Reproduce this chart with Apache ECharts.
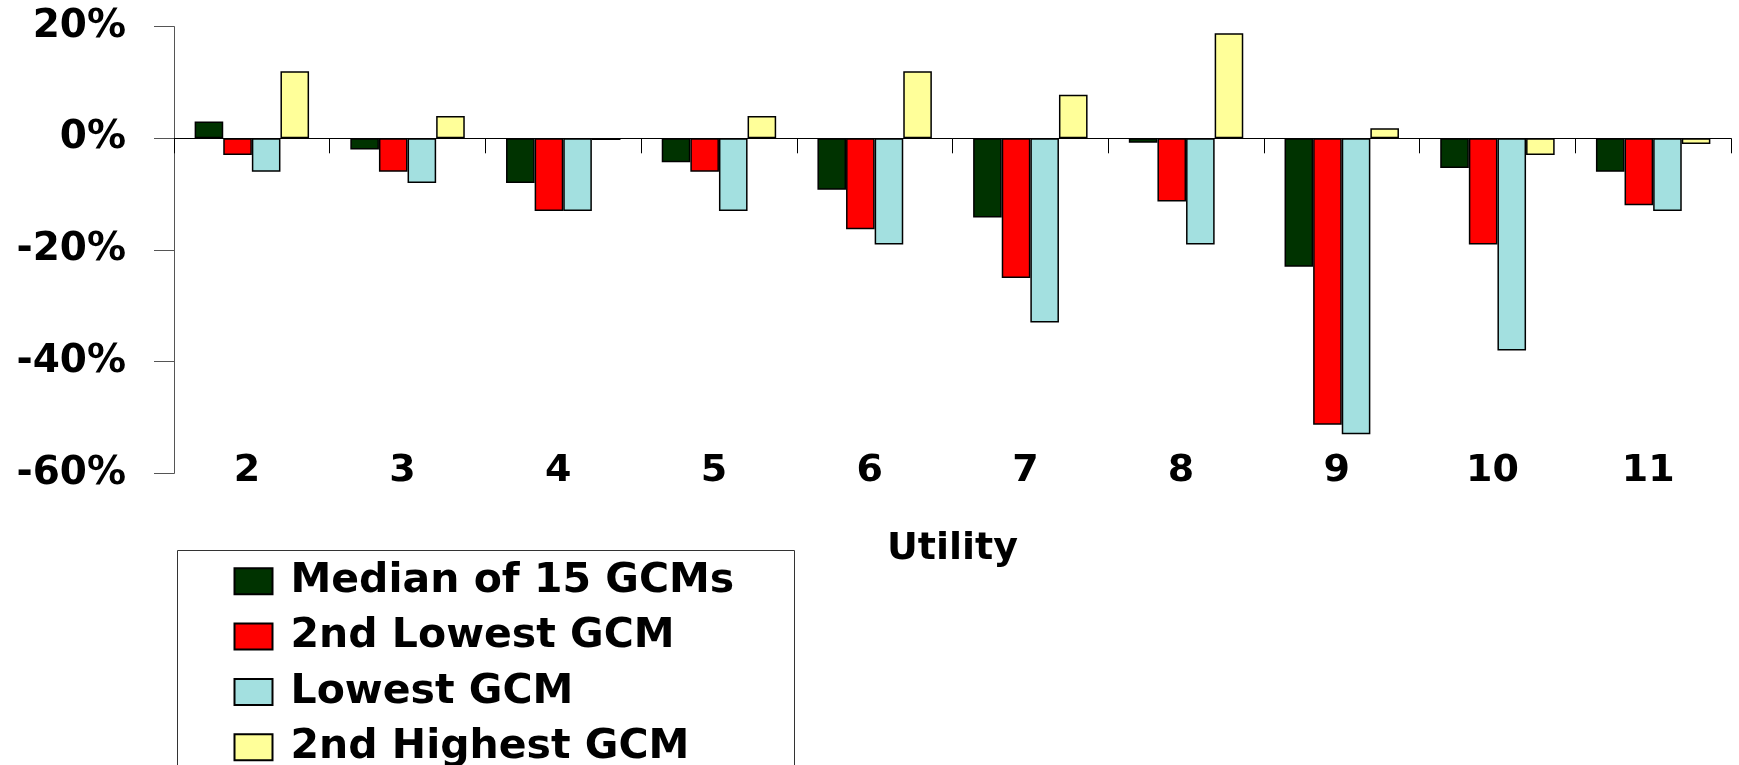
<!DOCTYPE html>
<html>
<head>
<meta charset="utf-8">
<script src="https://cdn.jsdelivr.net/npm/echarts@6/dist/echarts.min.js"></script>
<style>
html,body{margin:0;padding:0;background:#fff;}
#chart{width:1739px;height:765px;}
</style>
</head>
<body>
<div id="chart"></div>
<script>
const categories = ['2','3','4','5','6','7','8','9','10','11'];
const seriesNames = ['Median of 15 GCMs','2nd Lowest GCM','Lowest GCM','2nd Highest GCM'];
const median = [3, -2, -8, -4.3, -9.2, -14.2, -0.8, -23, -5.3, -6];
const secondLowest = [-3, -6, -13, -6, -16.3, -25, -11.3, -51.3, -19, -12];
const lowest = [-6, -8, -13, -13, -19, -33, -19, -53, -38, -13];
const secondHighest = [12, 4, -0.3, 4, 12, 7.8, 18.8, 1.8, -3, -1];
const yTicks = {min: -60, max: 20, interval: 20};

const colors = ['#003300', '#FF0000', '#A3E0E0', '#FFFF99'];
const FONT = 'DejaVu Sans';
const seriesData = [median, secondLowest, lowest, secondHighest];

const chart = echarts.init(document.getElementById('chart'), null, {renderer: 'canvas'});
chart.setOption({
  animation: false,
  backgroundColor: '#fff',
  grid: {left: 174, right: 8, top: 26.6, bottom: 291.6, containLabel: false},
  graphic: [{
    type: 'rect',
    shape: {x: 177.5, y: 550.5, width: 617, height: 300},
    style: {fill: 'none', stroke: '#333', lineWidth: 1},
    silent: true,
    z: 0
  }],
  legend: {
    type: 'plain',
    orient: 'vertical',
    left: 233.5,
    top: 560.8,
    height: 400,
    width: 700,
    padding: 0,
    itemGap: 14.3,
    itemWidth: 38,
    itemHeight: 26,
    icon: 'rect',
    data: seriesNames,
    textStyle: {fontFamily: FONT, fontWeight: 'bold', fontSize: 41, color: '#000', lineHeight: 40, padding: [0, 0, 0, 13]}
  },
  xAxis: [{
    type: 'category',
    data: categories,
    gridIndex: 0,
    axisLine: {onZero: true, lineStyle: {color: '#000', width: 1}},
    axisTick: {show: true, length: 15, lineStyle: {color: '#000', width: 1}},
    axisLabel: {show: false},
    splitLine: {show: false}
  }, {
    type: 'category',
    data: categories,
    gridIndex: 0,
    position: 'bottom',
    axisLine: {show: false, onZero: false},
    axisTick: {show: false},
    splitLine: {show: false},
    axisLabel: {show: true, margin: -2.5, verticalAlign: 'middle', padding: [0, 10, 0, 0], fontFamily: FONT, fontWeight: 'bold', fontSize: 38, color: '#000'},
    name: 'Utility',
    nameLocation: 'middle',
    nameGap: 57,
    nameTextStyle: {fontFamily: FONT, fontWeight: 'bold', fontSize: 38, color: '#000'}
  }],
  yAxis: {
    type: 'value',
    min: yTicks.min,
    max: yTicks.max,
    interval: yTicks.interval,
    axisLine: {show: true, lineStyle: {color: '#555', width: 1}},
    axisTick: {show: true, inside: false, length: 20, lineStyle: {color: '#555', width: 1}},
    splitLine: {show: false},
    axisLabel: {margin: 48, formatter: '{value}%', fontFamily: FONT, fontWeight: 'bold', fontSize: 39, color: '#000'}
  },
  series: seriesNames.map((name, i) => ({
    name: name,
    type: 'bar',
    xAxisIndex: 0,
    data: seriesData[i],
    barGap: '0%',
    barCategoryGap: '26.5%',
    itemStyle: {color: colors[i], borderColor: '#000', borderWidth: 1.5}
  }))
});
</script>
</body>
</html>
